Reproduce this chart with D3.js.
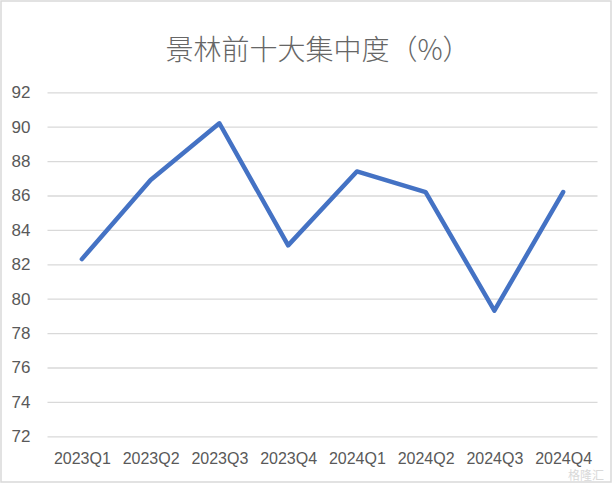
<!DOCTYPE html>
<html><head><meta charset="utf-8">
<script src="https://cdn.jsdelivr.net/npm/d3@7"></script>
<style>body{margin:0;background:#fff}svg{display:block}</style>
</head><body><svg id="c" width="612" height="483"></svg>
<script>
const categories = ["2023Q1","2023Q2","2023Q3","2023Q4","2024Q1","2024Q2","2024Q3","2024Q4"];
const values = [82.3, 86.9, 90.2, 83.1, 87.4, 86.2, 79.3, 86.2];
const yTicks = [72,74,76,78,80,82,84,86,88,90,92];
const title = "景林前十大集中度（%）";

const svg = d3.select("#c");
const W = 612, H = 483;
const m = {left: 47.5, right: 14.5, top: 92.3, bottom: 46.7};
svg.append("rect").attr("x",1).attr("y",1).attr("width",W-2).attr("height",H-2)
  .attr("fill","#fff").attr("stroke","#d9d9d9").attr("stroke-width",1.5);

const x = d3.scalePoint().domain(categories).range([m.left, W-m.right]).padding(0.5);
const y = d3.scaleLinear().domain([72,92]).range([H-m.bottom, m.top]);

svg.append("text").attr("x",318).attr("y",60).attr("text-anchor","middle")
  .attr("font-family","'Noto Sans CJK SC', sans-serif").attr("font-weight",300)
  .attr("font-size",28).attr("fill","#666666")
  .text(title);

const yAxis = d3.axisLeft(y).tickValues(yTicks).tickSize(-(W-m.left-m.right)).tickPadding(17);
const gy = svg.append("g").attr("transform",`translate(${m.left},0)`).call(yAxis);
gy.select(".domain").remove();
gy.selectAll(".tick line").attr("stroke","#d9d9d9").attr("stroke-width",1.3);
gy.selectAll(".tick text").attr("fill","#595959").attr("font-size",17)
  .attr("font-family","'Liberation Sans', Arial, sans-serif");

const xAxis = d3.axisBottom(x).tickSize(0).tickPadding(16);
const gx = svg.append("g").attr("transform",`translate(0,${H-m.bottom})`).call(xAxis);
gx.select(".domain").remove();
gx.selectAll(".tick text").attr("fill","#595959").attr("font-size",16)
  .attr("font-family","'Liberation Sans', Arial, sans-serif");

const line = d3.line().x((d,i)=>x(categories[i])).y(d=>y(d));
svg.append("path").datum(values).attr("d",line).attr("fill","none")
  .attr("stroke","#4472C4").attr("stroke-width",4.5).attr("stroke-linejoin","round").attr("stroke-linecap","round");

svg.append("text").attr("x",604).attr("y",480).attr("text-anchor","end")
  .attr("font-family","'Noto Sans CJK SC', sans-serif").attr("font-size",12).attr("fill","#d0d0d0")
  .attr("opacity",0.8).text("格隆汇");
</script></body></html>
